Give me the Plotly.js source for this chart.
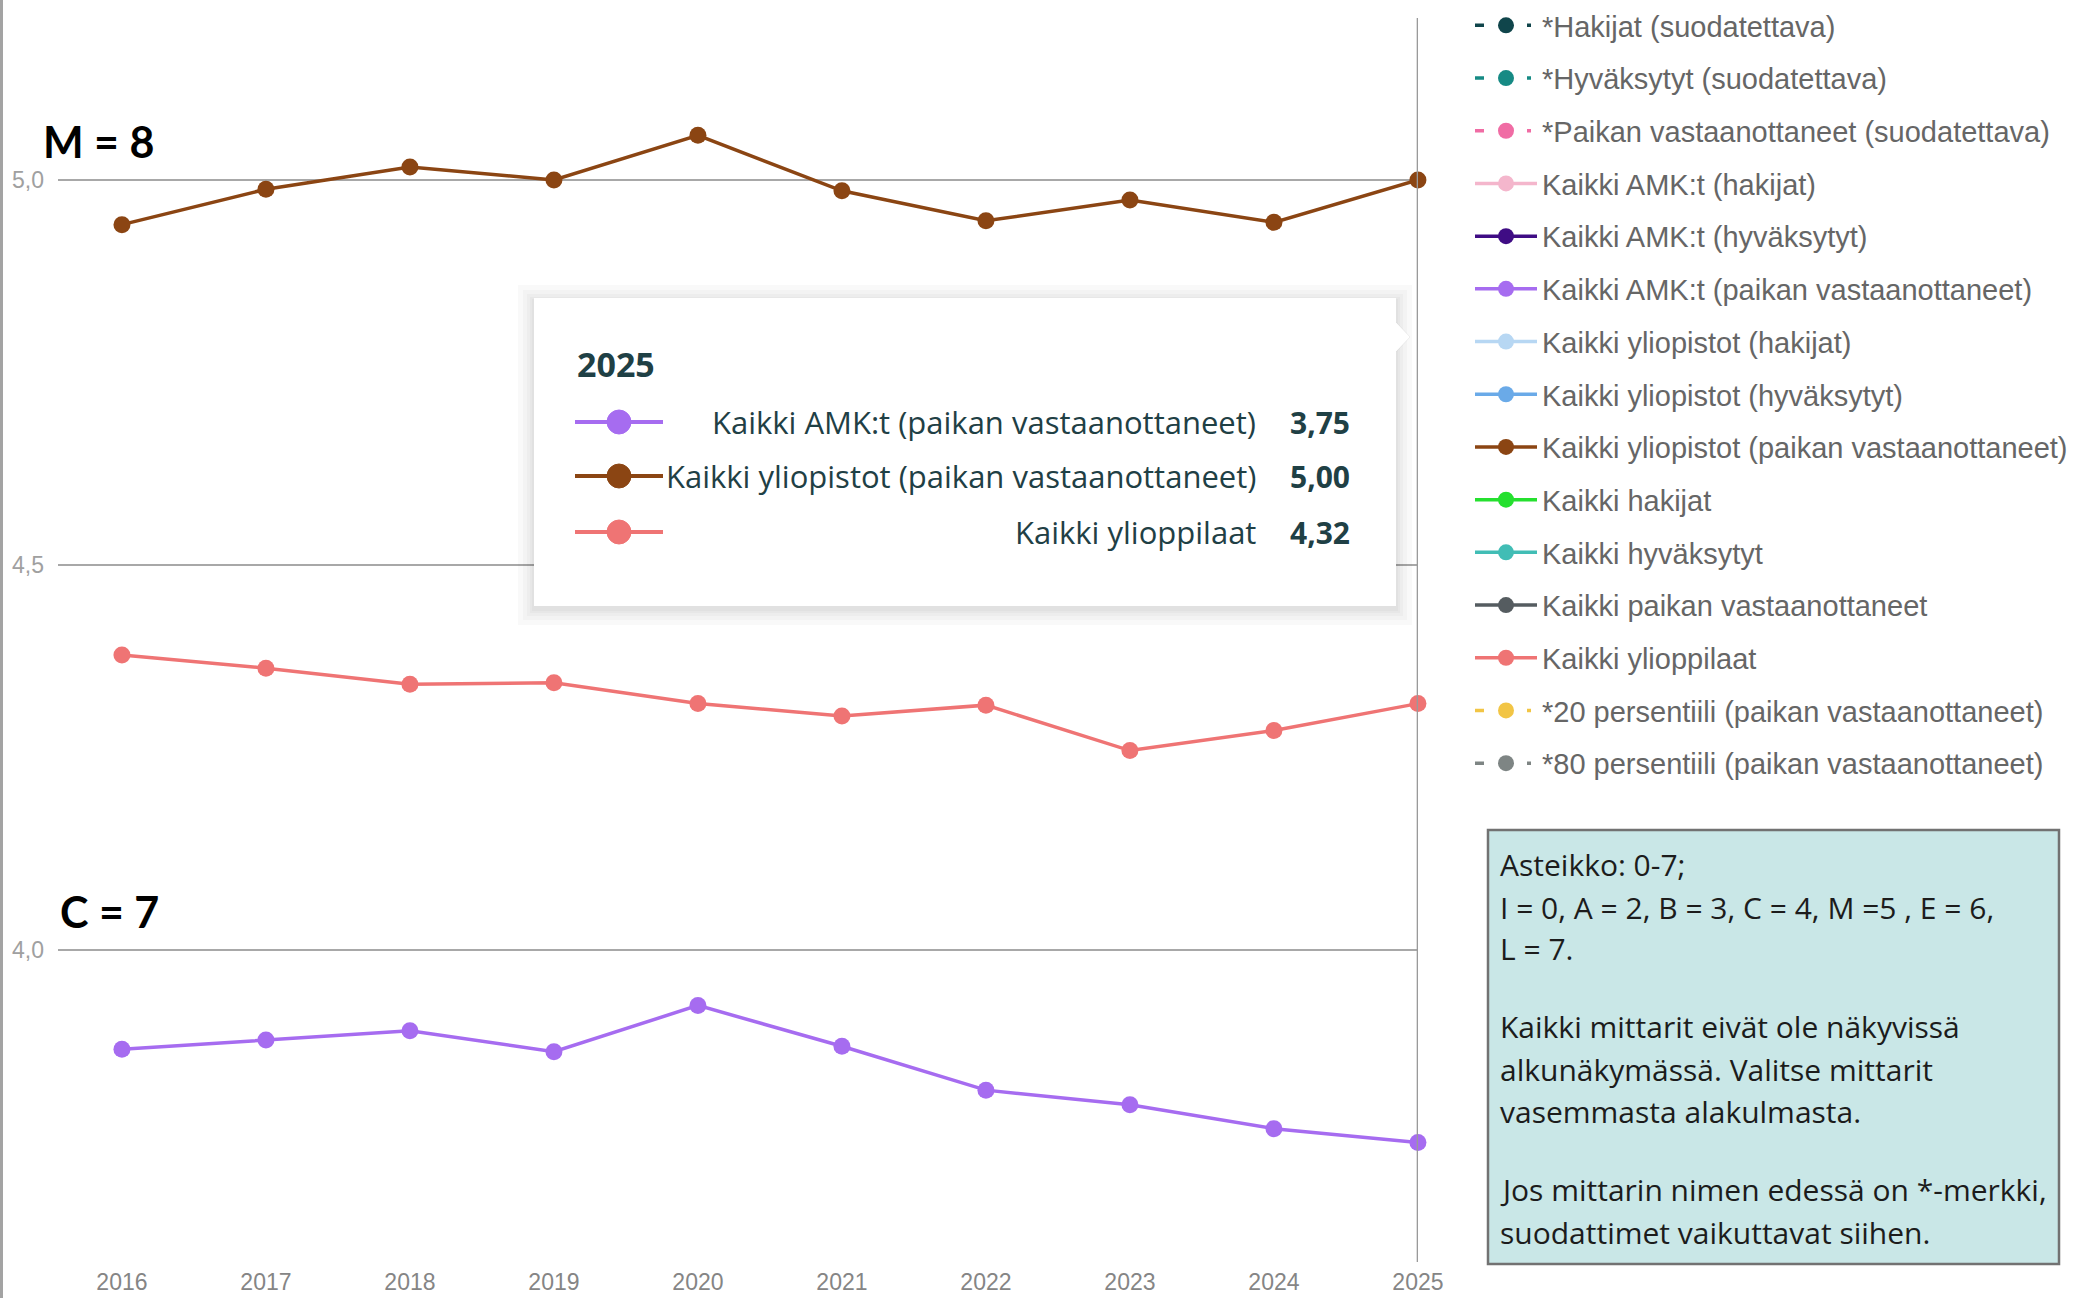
<!DOCTYPE html>
<html>
<head>
<meta charset="utf-8">
<script src="https://cdn.plot.ly/plotly-3.0.1.min.js"></script>
<style>
html, body { margin: 0; padding: 0; background: #ffffff; }
#chart { width: 2079px; height: 1298px; }
</style>
</head>
<body>
<div id="chart"></div>
<script>
// ---------- data ----------
const years = [2016, 2017, 2018, 2019, 2020, 2021, 2022, 2023, 2024, 2025];
const amkPaikanVastaanottaneet = [3.871, 3.883, 3.895, 3.868, 3.928, 3.875, 3.818, 3.799, 3.768, 3.75];
const yliopistotPaikanVastaanottaneet = [4.942, 4.988, 5.017, 5.0, 5.058, 4.986, 4.947, 4.974, 4.945, 5.0];
const kaikkiYlioppilaat = [4.383, 4.366, 4.345, 4.347, 4.32, 4.304, 4.318, 4.259, 4.285, 4.32];
const yTickValues = [4.0, 4.5, 5.0];

const seriesNames = [
  '*Hakijat (suodatettava)',
  '*Hyväksytyt (suodatettava)',
  '*Paikan vastaanottaneet (suodatettava)',
  'Kaikki AMK:t (hakijat)',
  'Kaikki AMK:t (hyväksytyt)',
  'Kaikki AMK:t (paikan vastaanottaneet)',
  'Kaikki yliopistot (hakijat)',
  'Kaikki yliopistot (hyväksytyt)',
  'Kaikki yliopistot (paikan vastaanottaneet)',
  'Kaikki hakijat',
  'Kaikki hyväksytyt',
  'Kaikki paikan vastaanottaneet',
  'Kaikki ylioppilaat',
  '*20 persentiili (paikan vastaanottaneet)',
  '*80 persentiili (paikan vastaanottaneet)'
];
const tooltipSeries = [
  'Kaikki AMK:t (paikan vastaanottaneet)',
  'Kaikki yliopistot (paikan vastaanottaneet)',
  'Kaikki ylioppilaat'
];
const gradeNotes = ['M = 8', 'C = 7'];
const infoLines = [
  'Asteikko: 0-7;',
  'I = 0, A = 2, B = 3, C = 4, M =5 , E = 6,',
  'L = 7.',
  'Kaikki mittarit eivät ole näkyvissä',
  'alkunäkymässä. Valitse mittarit',
  'vasemmasta alakulmasta.',
  'Jos mittarin nimen edessä on *-merkki,',
  'suodattimet vaikuttavat siihen.'
];

// ---------- styling ----------
const seriesData = {
  'Kaikki AMK:t (paikan vastaanottaneet)': amkPaikanVastaanottaneet,
  'Kaikki yliopistot (paikan vastaanottaneet)': yliopistotPaikanVastaanottaneet,
  'Kaikki ylioppilaat': kaikkiYlioppilaat
};
const seriesStyle = {
  '*Hakijat (suodatettava)': {c: '#10454B', dash: true},
  '*Hyväksytyt (suodatettava)': {c: '#168A84', dash: true},
  '*Paikan vastaanottaneet (suodatettava)': {c: '#F06CA4', dash: true},
  'Kaikki AMK:t (hakijat)': {c: '#F4B6CC'},
  'Kaikki AMK:t (hyväksytyt)': {c: '#3F0C84'},
  'Kaikki AMK:t (paikan vastaanottaneet)': {c: '#A66CF0'},
  'Kaikki yliopistot (hakijat)': {c: '#B7D7F3'},
  'Kaikki yliopistot (hyväksytyt)': {c: '#6AAAE8'},
  'Kaikki yliopistot (paikan vastaanottaneet)': {c: '#8B4513'},
  'Kaikki hakijat': {c: '#25E02F'},
  'Kaikki hyväksytyt': {c: '#41BDB5'},
  'Kaikki paikan vastaanottaneet': {c: '#555C60'},
  'Kaikki ylioppilaat': {c: '#EF7474'},
  '*20 persentiili (paikan vastaanottaneet)': {c: '#F2C545', dash: true},
  '*80 persentiili (paikan vastaanottaneet)': {c: '#7E8584', dash: true}
};

// page layout geometry (pixels)
const W = 2079, H = 1298;
const PL = 58, PR = 1418, PT = 0, PB = 1262;
const pw = PR - PL, ph = PB - PT;
const px = v => (v - PL) / pw;
const py = v => (PB - v) / ph;

const traces = seriesNames.map((name, i) => {
  const ys = seriesData[name];
  const st = seriesStyle[name];
  return {
    type: 'scatter',
    mode: 'lines+markers',
    name: name,
    x: ys ? years : [null],
    y: ys ? ys : [null],
    line: {color: st.c, width: 3.5, dash: st.dash ? '9px,43px,4px,30px' : 'solid'},
    marker: {color: st.c, size: 17},
    legendgroup: 'g' + i,
    cliponaxis: false,
    hoverinfo: 'skip'
  };
});

const shapes = [];
const annotations = [];

// left frame line
shapes.push({type: 'line', xref: 'paper', yref: 'paper', x0: px(1.5), x1: px(1.5), y0: py(H), y1: py(0),
  line: {color: '#a3a3a3', width: 3}, layer: 'above'});
// hover vertical line at last year
shapes.push({type: 'line', xref: 'x', yref: 'paper', x0: years[years.length - 1], x1: years[years.length - 1],
  y0: 0, y1: py(18), line: {color: '#9a9a9a', width: 2.5}, layer: 'above'});

// tooltip box with soft shadow
const TB = {l: 534, r: 1396, t: 298, b: 606};
[16, 11, 7, 4, 2].forEach(s => {
  shapes.push({type: 'rect', xref: 'paper', yref: 'paper', layer: 'above',
    x0: px(TB.l - s), x1: px(TB.r + s), y0: py(TB.b + s + 3), y1: py(TB.t - s + 3),
    fillcolor: 'rgba(0,0,0,0.022)', line: {width: 0}});
});
shapes.push({type: 'path', xref: 'paper', yref: 'paper', layer: 'above',
  path: `M ${px(TB.r - 2)},${py(320)} L ${px(TB.r + 14)},${py(337)} L ${px(TB.r - 2)},${py(354)} Z`,
  fillcolor: '#ffffff', line: {color: 'rgba(0,0,0,0.06)', width: 1}});
shapes.push({type: 'rect', xref: 'paper', yref: 'paper', layer: 'above',
  x0: px(TB.l), x1: px(TB.r), y0: py(TB.b), y1: py(TB.t),
  fillcolor: '#ffffff', line: {width: 0}});

const lastYear = years[years.length - 1];
annotations.push({xref: 'paper', yref: 'paper', x: px(575), y: py(364), xanchor: 'left', yanchor: 'middle',
  text: '<b>' + lastYear + '</b>', showarrow: false,
  font: {family: 'Open Sans, Noto Sans, sans-serif', size: 34, color: '#1f4045'}});

const rowY = [422, 476, 532];
tooltipSeries.forEach((name, i) => {
  const y = rowY[i];
  const c = seriesStyle[name].c;
  const vals = seriesData[name];
  shapes.push({type: 'line', xref: 'paper', yref: 'paper', layer: 'above',
    x0: px(575), x1: px(663), y0: py(y), y1: py(y), line: {color: c, width: 4}});
  shapes.push({type: 'circle', xref: 'paper', yref: 'paper', layer: 'above',
    x0: px(619 - 12), x1: px(619 + 12), y0: py(y + 12), y1: py(y - 12),
    fillcolor: c, line: {color: c, width: 1}});
  annotations.push({xref: 'paper', yref: 'paper', x: px(1258), y: py(y), xanchor: 'right', yanchor: 'middle',
    text: name, showarrow: false,
    font: {family: 'Open Sans, Noto Sans, sans-serif', size: 31, color: '#1f4045'}});
  annotations.push({xref: 'paper', yref: 'paper', x: px(1288), y: py(y), xanchor: 'left', yanchor: 'middle',
    text: '<b>' + vals[vals.length - 1].toFixed(2).replace('.', ',') + '</b>', showarrow: false,
    font: {family: 'Open Sans, Noto Sans, sans-serif', size: 30, color: '#1f4045'}});
});

// grade notes
const notePos = [{x: 41, y: 141}, {x: 58, y: 911}];
gradeNotes.forEach((t, i) => {
  annotations.push({xref: 'paper', yref: 'paper', x: px(notePos[i].x), y: py(notePos[i].y),
    xanchor: 'left', yanchor: 'middle', text: '<b>' + t + '</b>', showarrow: false,
    font: {family: 'Lato, Carlito, sans-serif', size: 43, color: '#000000'}});
});

// info box
shapes.push({type: 'rect', xref: 'paper', yref: 'paper', layer: 'above',
  x0: px(1488), x1: px(2059), y0: py(1264), y1: py(830),
  fillcolor: '#C9E7E7', line: {color: '#727272', width: 2.5}});
const infoY = [864, 907, 948, 1026, 1069, 1111, 1189, 1232];
infoLines.forEach((t, k) => {
  annotations.push({xref: 'paper', yref: 'paper', x: px(1498), y: py(infoY[k]),
    xanchor: 'left', yanchor: 'middle', text: t, showarrow: false,
    font: {family: 'Open Sans, Noto Sans, sans-serif', size: 30, color: '#1c1c1c'}});
});

const layout = {
  width: W, height: H,
  margin: {l: PL, r: W - PR, t: PT, b: H - PB, pad: 0, autoexpand: false},
  paper_bgcolor: '#ffffff',
  plot_bgcolor: '#ffffff',
  separators: ', ',
  hovermode: false,
  showlegend: true,
  legend: {
    x: px(1470), xanchor: 'left', y: 1, yanchor: 'top',
    traceorder: 'grouped', tracegroupgap: 12,
    itemwidth: 62,
    font: {family: 'Liberation Sans, Arial, sans-serif', size: 29, color: '#666666'},
    bgcolor: 'rgba(0,0,0,0)', borderwidth: 0
  },
  xaxis: {
    range: [2015.556, 2015.556 + pw / 144],
    tickvals: years, ticktext: years.map(String),
    showgrid: false, zeroline: false, showline: false, ticks: '',
    ticklabelstandoff: 4,
    tickfont: {family: 'Liberation Sans, Arial, sans-serif', size: 23, color: '#858585'},
    fixedrange: true
  },
  yaxis: {
    range: [5.0 - (PB - 180) / 770, 5.0 + 180 / 770],
    tickvals: yTickValues, tickformat: '.1f',
    showgrid: true, gridcolor: '#a8a8a8', gridwidth: 2,
    zeroline: false, showline: false, ticks: '',
    ticklabelstandoff: 13,
    tickfont: {family: 'Liberation Sans, Arial, sans-serif', size: 23, color: '#a0a0a0'},
    fixedrange: true
  },
  shapes: shapes,
  annotations: annotations
};

Plotly.newPlot('chart', traces, layout, {staticPlot: true, displayModeBar: false});
</script>
</body>
</html>
